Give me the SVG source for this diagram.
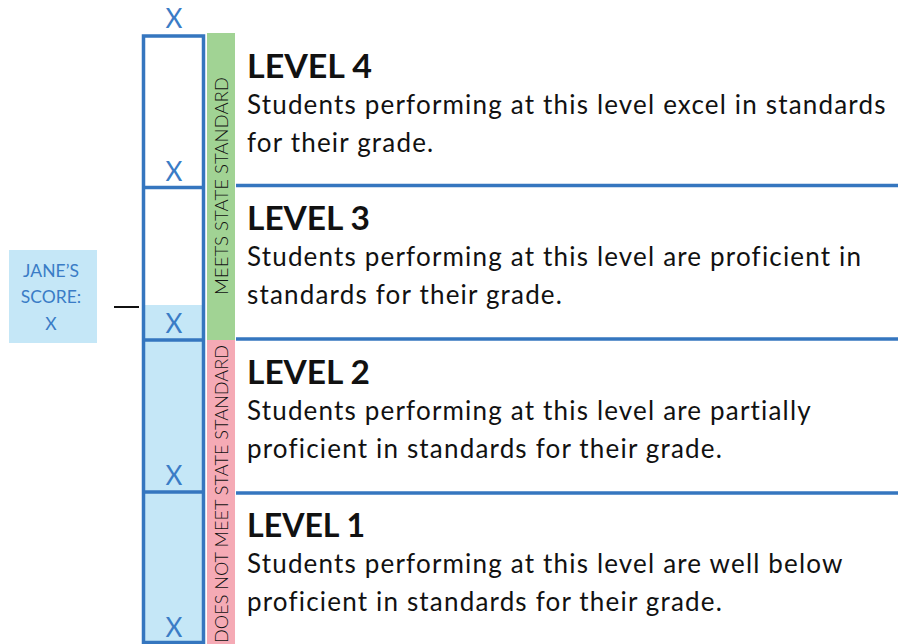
<svg xmlns="http://www.w3.org/2000/svg" width="898" height="644" viewBox="0 0 898 644">
<style>
.x{font-family:Lato,"Open Sans",sans-serif;font-weight:400;font-size:26px;fill:#3a7cc6;text-anchor:middle}
.t{font-family:Lato,"Open Sans",sans-serif;font-weight:700;font-size:33px;fill:#111}
.b{font-family:Lato,"Open Sans",sans-serif;font-weight:400;font-size:26px;letter-spacing:1.18px;fill:#111}
.v{font-family:Lato,"Open Sans",sans-serif;font-weight:300;font-size:18px;fill:#111;text-anchor:middle}
.j{font-family:Lato,"Open Sans",sans-serif;font-weight:400;font-size:17.5px;fill:#3a7cc6;text-anchor:middle}
.ln{stroke:#3576bf;stroke-width:3.5;fill:none}
</style>
<rect width="898" height="644" fill="#ffffff"/>
<g id="bars">
<rect x="207" y="33" width="28" height="307" fill="#a1d394"/>
<rect x="207" y="340" width="28" height="304" fill="#f5aab5"/>
<text class="v" transform="translate(227.5 186) rotate(-90)" textLength="218" lengthAdjust="spacingAndGlyphs">MEETS STATE STANDARD</text>
<text class="v" transform="translate(227.5 494) rotate(-90)" textLength="298" lengthAdjust="spacingAndGlyphs">DOES NOT MEET STATE STANDARD</text>
</g>
<g id="column">
<rect x="143.5" y="305" width="60" height="337" fill="#c5e7f7"/>
<rect x="143.5" y="36" width="60" height="606.5" class="ln"/>
</g>
<g id="connectors">
<line x1="143.5" y1="187.5" x2="203.5" y2="187.5" class="ln"/>
<line x1="143.5" y1="340" x2="203.5" y2="340" class="ln"/>
<line x1="143.5" y1="492" x2="203.5" y2="492" class="ln"/>
<line x1="236" y1="185.5" x2="898" y2="185.5" class="ln"/>
<line x1="236" y1="339" x2="898" y2="339" class="ln"/>
<line x1="236" y1="493" x2="898" y2="493" class="ln"/>
<line x1="114" y1="307" x2="139" y2="307" stroke="#111" stroke-width="2"/>
</g>
<g id="xlabels">
<text class="x" x="174" y="28">X</text>
<text class="x" x="174" y="181">X</text>
<text class="x" x="174" y="333">X</text>
<text class="x" x="174" y="485">X</text>
<text class="x" x="174" y="637">X</text>
</g>
<g id="jane">
<rect x="9" y="250" width="88" height="93" fill="#c5e7f7"/>
<text class="j" x="51" y="277">JANE’S</text>
<text class="j" x="51" y="303">SCORE:</text>
<text class="j" x="51" y="330">X</text>
</g>
<g id="level4">
<text class="t" x="247" y="78" textLength="125" lengthAdjust="spacingAndGlyphs">LEVEL 4</text>
<text class="b" x="247" y="114">Students performing at this level excel in standards</text>
<text class="b" x="247" y="152">for their grade.</text>
</g>
<g id="level3">
<text class="t" x="247" y="230" textLength="123" lengthAdjust="spacingAndGlyphs">LEVEL 3</text>
<text class="b" x="247" y="266">Students performing at this level are proficient in</text>
<text class="b" x="247" y="304">standards for their grade.</text>
</g>
<g id="level2">
<text class="t" x="247" y="384" textLength="123" lengthAdjust="spacingAndGlyphs">LEVEL 2</text>
<text class="b" x="247" y="420">Students performing at this level are partially</text>
<text class="b" x="247" y="458">proficient in standards for their grade.</text>
</g>
<g id="level1">
<text class="t" x="247" y="537" textLength="118" lengthAdjust="spacingAndGlyphs">LEVEL 1</text>
<text class="b" x="247" y="573">Students performing at this level are well below</text>
<text class="b" x="247" y="611">proficient in standards for their grade.</text>
</g>
</svg>
